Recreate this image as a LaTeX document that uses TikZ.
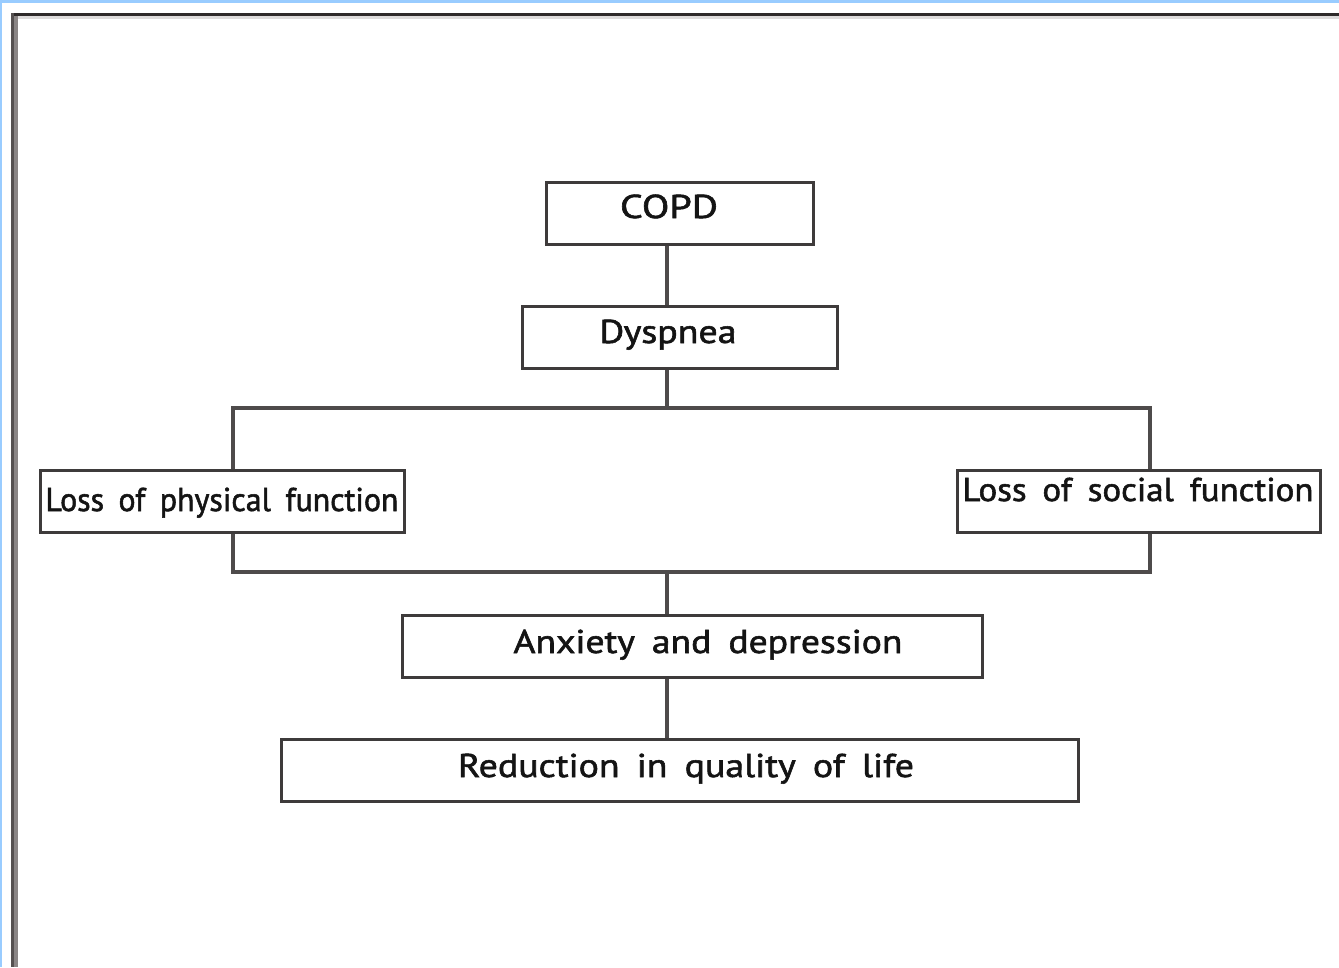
\documentclass[tikz,border=0pt]{standalone}
\usepackage{fontspec}
\setmainfont{PT Sans}[WordSpace=1.7,FakeBold=1.6]
\definecolor{boxc}{HTML}{3E3B3B}
\definecolor{linec}{HTML}{4E4B4B}
\definecolor{bluec}{HTML}{99CCFF}
\definecolor{fra}{HTML}{DDDBDB}
\definecolor{frb}{HTML}{2E2A2A}
\definecolor{frc}{HTML}{8A8585}
\definecolor{frd}{HTML}{555050}
\newcommand\fitw[2]{\resizebox{#1}{\height}{#2}}
\begin{document}
\begin{tikzpicture}[x=1pt,y=-1pt,
  box/.style={draw=boxc,line width=3.2pt,fill=white,inner sep=0pt,anchor=north west},
  lbl/.style={anchor=base,inner sep=0pt,text=black!92,font=\fontsize{33}{36}\selectfont},
  conn/.style={draw=linec,line width=3.2pt}]
\useasboundingbox (0,0) rectangle (1339,967);
% outer frame
\fill[bluec] (0,0) rectangle (1339,2.5);
\fill[bluec] (0,0) rectangle (1.5,967);
\fill[fra] (17,16) rectangle (1339,18.5);
\fill[frb] (11,13) rectangle (1339,16);
\fill[frc] (14,16) rectangle (17.5,967);
\fill[frd] (11,13) rectangle (14,967);
% boxes
\node[box,minimum width=267pt,minimum height=62pt] (copd) at (545,181) {};
\node[box,minimum width=315pt,minimum height=62pt] (dysp) at (521,305) {};
\node[box,minimum width=364pt,minimum height=62pt] (phys) at (39,469) {};
\node[box,minimum width=363pt,minimum height=62pt] (soc) at (956,469) {};
\node[box,minimum width=580pt,minimum height=62pt] (anx) at (401,614) {};
\node[box,minimum width=797pt,minimum height=62pt] (red) at (280,738) {};
% junction points
\coordinate (jt) at (667,408);
\coordinate (jtl) at (233,408);
\coordinate (jtr) at (1150,408);
\coordinate (jb) at (667,572);
\coordinate (jbl) at (233,572);
\coordinate (jbr) at (1150,572);
% connectors
\draw[conn] (copd.south -| jt) -- (dysp.north -| jt);
\draw[conn] (dysp.south -| jt) -- (jt);
\draw[conn] (phys.north -| jtl) -- (jtl) -- (jtr) -- (soc.north -| jtr);
\draw[conn] (phys.south -| jbl) -- (jbl) -- (jbr) -- (soc.south -| jbr);
\draw[conn] (jb) -- (anx.north -| jb);
\draw[conn] (anx.south -| jb) -- (red.north -| jb);
% labels
\node[lbl] (tcopd) at (669,218) {\fitw{98pt}{COPD}};
\node[lbl] (tdysp) at (668,343) {\fitw{137pt}{Dyspnea}};
\node[lbl] (tphys) at (222,511) {\fitw{353pt}{Loss of physical function}};
\node[lbl] (tsoc) at (1138,501) {\fitw{351pt}{Loss of social function}};
\node[lbl] (tanx) at (708,653) {\fitw{389pt}{Anxiety and depression}};
\node[lbl] (tred) at (686,777) {\fitw{456pt}{Reduction in quality of life}};
\end{tikzpicture}
\end{document}
